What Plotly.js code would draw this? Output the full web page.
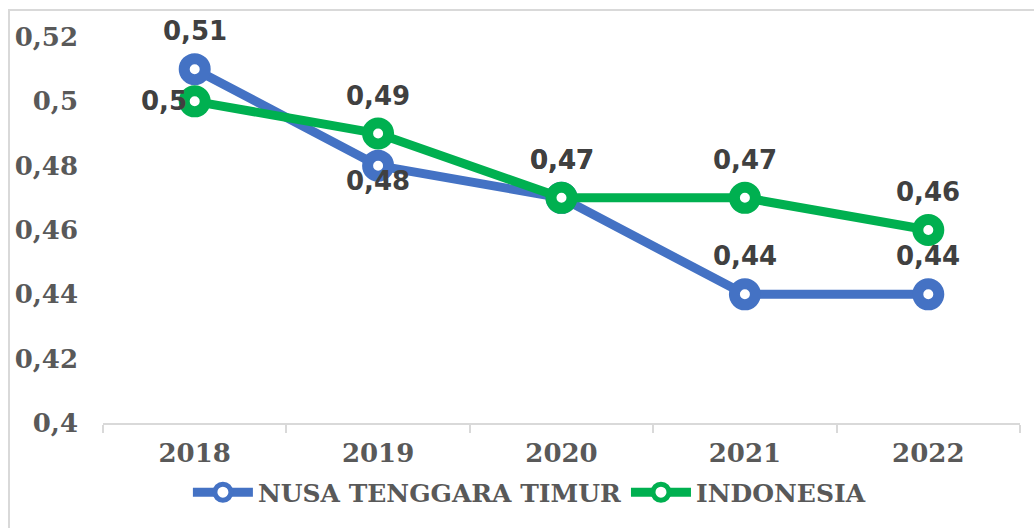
<!DOCTYPE html>
<html>
<head>
<meta charset="utf-8">
<script src="https://cdn.plot.ly/plotly-3.0.1.min.js"></script>
<style>
  html, body { margin: 0; padding: 0; background: #fff; }
  #frame { position: absolute; left: 8px; top: 9px; width: 1040px; height: 540px; border: 2px solid #d9d9d9; box-sizing: border-box; }
  #chart { position: absolute; left: 0; top: 0; width: 1034px; height: 528px; }
</style>
</head>
<body>
<div id="frame"></div>
<div id="chart"></div>
<script>
const years = ['2018', '2019', '2020', '2021', '2022'];
const ntt = [0.51, 0.48, 0.47, 0.44, 0.44];
const indonesia = [0.50, 0.49, 0.47, 0.47, 0.46];
const yTicks = [0.40, 0.42, 0.44, 0.46, 0.48, 0.50, 0.52];
const yTickLabels = ['0,4', '0,42', '0,44', '0,46', '0,48', '0,5', '0,52'];
// label placement per point: 'above', 'below', 'left'
const nttPos = ['above', 'below', 'above', 'above', 'above'];
const indoPos = ['left', 'above', 'above', 'above', 'above'];

const fmt = v => String(v).replace('.', ',');

function labelFont() { return { family: 'DejaVu Sans', size: 26, color: '#404040', weight: 'bold' }; }

function makeAnnotations(values, positions) {
  return values.map((v, i) => {
    const p = positions[i];
    const a = {
      x: years.indexOf(years[i]), y: v, xref: 'x', yref: 'y', text: fmt(v), showarrow: false,
      font: labelFont(), xanchor: 'center', yanchor: 'middle'
    };
    if (p === 'above') a.yshift = 38;
    else if (p === 'below') a.yshift = -15;
    else if (p === 'left') { a.xanchor = 'right'; a.xshift = -6; }
    return a;
  });
}

const traces = [
  {
    x: years, y: ntt, name: 'NUSA TENGGARA TIMUR', type: 'scatter', mode: 'lines+markers',
    line: { color: '#4472C4', width: 9 },
    marker: { symbol: 'circle', size: 21, color: '#ffffff', line: { color: '#4472C4', width: 11 } },
    cliponaxis: false
  },
  {
    x: years, y: indonesia, name: 'INDONESIA', type: 'scatter', mode: 'lines+markers',
    line: { color: '#00B050', width: 9 },
    marker: { symbol: 'circle', size: 21, color: '#ffffff', line: { color: '#00B050', width: 11 } },
    cliponaxis: false
  }
];

const layout = {
  width: 1034, height: 528,
  margin: { l: 103, r: 14, t: 37, b: 105 },
  paper_bgcolor: 'rgba(0,0,0,0)', plot_bgcolor: 'rgba(0,0,0,0)',
  showlegend: true,
  legend: {
    orientation: 'h', x: 0.465, xanchor: 'center', y: -0.18, yanchor: 'middle',
    font: { family: 'DejaVu Serif', size: 25, color: '#595959', weight: 'bold' },
    itemwidth: 60, tracegroupgap: 0
  },
  annotations: makeAnnotations(ntt, nttPos).concat(makeAnnotations(indonesia, indoPos)),
  xaxis: {
    type: 'category', showgrid: false, zeroline: false,
    showline: true, linecolor: '#d9d9d9', linewidth: 2,
    ticks: 'outside', ticklen: 8, tickcolor: '#d9d9d9', tickwidth: 2,
    tickson: 'boundaries', ticklabelstandoff: 6,
    tickfont: { family: 'DejaVu Serif', size: 26, color: '#595959', weight: 'bold' },
    range: [-0.5, 4.5], fixedrange: true
  },
  yaxis: {
    range: [0.40, 0.52], showgrid: false, zeroline: false, showline: false,
    tickmode: 'array', tickvals: yTicks, ticktext: yTickLabels,
    ticks: '', ticklabelstandoff: 24,
    tickfont: { family: 'DejaVu Serif', size: 26, color: '#595959', weight: 'bold' }
  }
};

Plotly.newPlot('chart', traces, layout, { displayModeBar: false, staticPlot: true });
</script>
</body>
</html>
